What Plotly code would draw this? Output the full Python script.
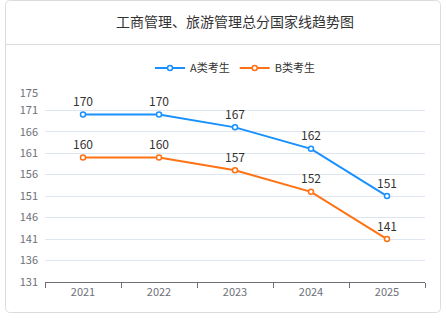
import plotly.graph_objects as go

years = ["2021", "2022", "2023", "2024", "2025"]
series_a = [170, 170, 167, 162, 151]
series_b = [160, 160, 157, 152, 141]
y_ticks = [131, 136, 141, 146, 151, 156, 161, 166, 171, 175]
title_text = "工商管理、旅游管理总分国家线趋势图"

W, H = 447, 322
L, R, T, B = 45, 22, 93, 40
PW, PH = W - L - R, H - T - B

def px(x):
    return (x - L) / PW

def py(y):
    return (H - B - y) / PH

FONT = "Noto Sans CJK SC, Noto Sans, sans-serif"

fig = go.Figure()
annotations = []
for name, vals, col in [("A类考生", series_a, "#1890FF"), ("B类考生", series_b, "#FF7214")]:
    fig.add_trace(go.Scatter(
        x=years, y=vals, name=name, mode="lines+markers",
        line=dict(color=col, width=2),
        marker=dict(symbol="circle", size=5, color="white", line=dict(color=col, width=1.5)),
        cliponaxis=False,
    ))
    for i, yv in enumerate(vals):
        annotations.append(dict(x=i, y=yv, xref="x", yref="y", text=str(yv), showarrow=False,
                                yshift=14, font=dict(size=12, color="#333333", family=FONT)))

# card border
x0, x1, y0, y1, r = 5.5, 440.5, 0.5, 312.5, 5
path = (f"M {px(x0+r)},{py(y0)} L {px(x1-r)},{py(y0)} Q {px(x1)},{py(y0)} {px(x1)},{py(y0+r)} "
        f"L {px(x1)},{py(y1-r)} Q {px(x1)},{py(y1)} {px(x1-r)},{py(y1)} "
        f"L {px(x0+r)},{py(y1)} Q {px(x0)},{py(y1)} {px(x0)},{py(y1-r)} "
        f"L {px(x0)},{py(y0+r)} Q {px(x0)},{py(y0)} {px(x0+r)},{py(y0)} Z")
shapes = [
    dict(type="path", xref="paper", yref="paper", path=path,
         line=dict(color="#DCDCDC", width=1), layer="below"),
    dict(type="line", xref="paper", yref="paper", x0=px(x0), x1=px(x1), y0=py(44.5), y1=py(44.5),
         line=dict(color="#DCDCDC", width=1)),
]

fig.update_layout(
    width=W, height=H,
    margin=dict(l=L, r=R, t=T, b=B),
    paper_bgcolor="white", plot_bgcolor="white",
    font=dict(family=FONT, color="#333333"),
    title=dict(text=title_text, x=0.5, xref="paper", xanchor="center", y=1 - 22 / H, yanchor="middle",
               font=dict(size=14, color="#333333", family=FONT)),
    showlegend=True,
    legend=dict(orientation="h", x=0.5, xanchor="center", xref="paper", y=py(68), yanchor="middle",
                font=dict(size=11, color="#333333", family=FONT), itemwidth=30, tracegroupgap=0,
                bgcolor="rgba(0,0,0,0)"),
    shapes=shapes,
    annotations=annotations,
    xaxis=dict(type="category", range=[-0.5, 4.5], showgrid=False, showline=True,
               linecolor="#6E7079", linewidth=1, ticks="outside", tickson="boundaries",
               ticklen=5, tickcolor="#6E7079", tickfont=dict(size=11, color="#6E7079", family=FONT),
               zeroline=False, fixedrange=True),
    yaxis=dict(range=[131, 175], tickvals=y_ticks, showgrid=True, gridcolor="#E0E6F1", gridwidth=1,
               showline=False, zeroline=False, ticks="", ticklabelstandoff=6,
               tickfont=dict(size=11, color="#6E7079", family=FONT), fixedrange=True),
)

fig.write_html("out.html")
